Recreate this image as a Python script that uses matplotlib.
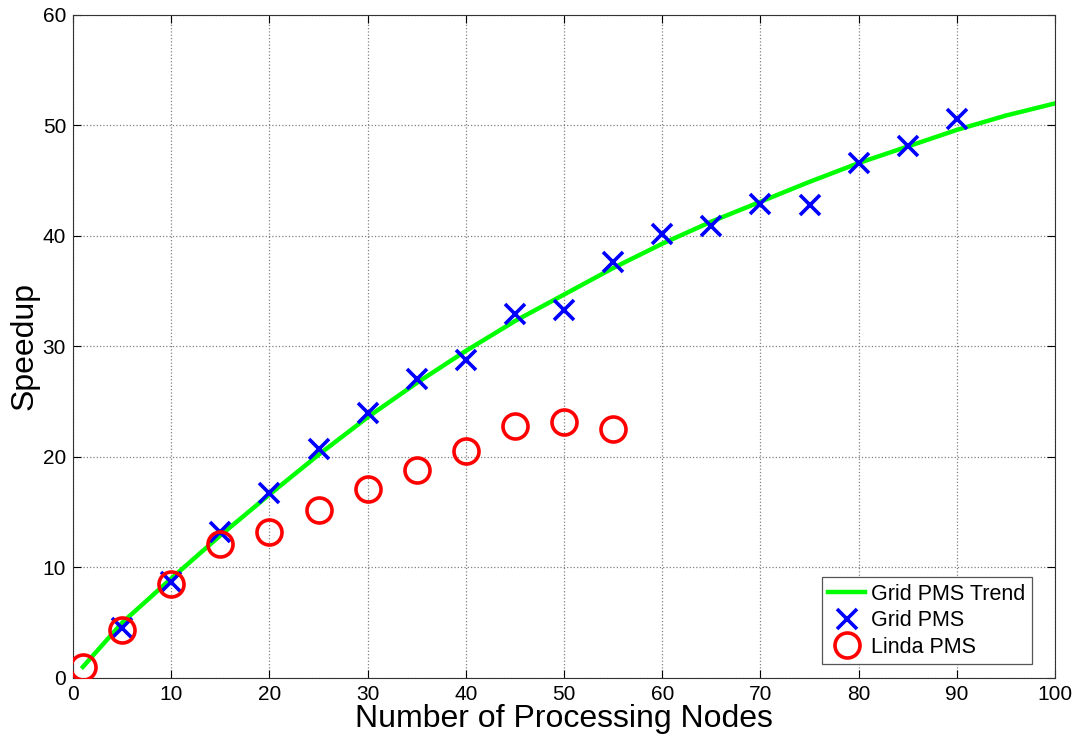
import matplotlib
matplotlib.use("Agg")
import matplotlib.pyplot as plt

plt.rcParams['font.family'] = ['Liberation Sans', 'DejaVu Sans']

# trend curve
trend_x = [1, 5, 10, 15, 20, 25, 30, 35, 40, 45, 50, 55, 60, 65, 70, 75, 80, 85, 90, 95, 100]
trend_y = [1.0, 5.0, 9.0, 12.9, 16.6, 20.2, 23.6, 26.7, 29.6, 32.3, 34.7, 37.1, 39.3,
           41.3, 43.1, 44.9, 46.6, 48.1, 49.6, 50.9, 52.0]

# Grid PMS measurements
grid_x = [5, 10, 15, 20, 25, 30, 35, 40, 45, 50, 55, 60, 65, 70, 75, 80, 85, 90]
grid_y = [4.5, 8.7, 13.2, 16.7, 20.7, 24.0, 27.1, 28.8, 32.9, 33.3, 37.6, 40.2,
          40.9, 42.9, 42.8, 46.6, 48.1, 50.6]

# Linda PMS measurements
linda_x = [1, 5, 10, 15, 20, 25, 30, 35, 40, 45, 50, 55]
linda_y = [1.0, 4.3, 8.5, 12.1, 13.2, 15.2, 17.1, 18.8, 20.5, 22.8, 23.2, 22.5]

fig = plt.figure(figsize=(10.79, 7.42), dpi=100)
ax = fig.add_axes([0.0677, 0.0863, 0.9101, 0.8935])

ax.plot(trend_x, trend_y, color='#00ff00', linewidth=3.2, label='Grid PMS Trend', zorder=2)
ax.plot(grid_x, grid_y, linestyle='none', marker='x', markersize=14, markeredgewidth=2.6,
        color='#0000ff', label='Grid PMS', zorder=3)
ax.plot(linda_x, linda_y, linestyle='none', marker='o', markersize=18, markeredgewidth=2.6,
        markerfacecolor='none', markeredgecolor='#ff0000', label='Linda PMS', zorder=4)

ax.set_xlim(0, 100)
ax.set_ylim(0, 60)
ax.set_xticks(range(0, 101, 10))
ax.set_yticks(range(0, 61, 10))
ax.tick_params(direction='in', top=True, right=True, labelsize=15, length=6, pad=5)
ax.grid(True, linestyle=':', color='#808080', linewidth=0.9)
for s in ax.spines.values():
    s.set_color('#333333')

ax.set_xlabel('Number of Processing Nodes', fontsize=23, labelpad=0)
ax.set_ylabel('Speedup', fontsize=23, labelpad=2)

leg = ax.legend(loc='lower right', bbox_to_anchor=(0.9766, 0.0211), fontsize=15.5,
                fancybox=False, framealpha=1, edgecolor='#555555', borderaxespad=0,
                handlelength=1.7, handletextpad=0.3, labelspacing=0.25, borderpad=0.3)
leg.get_frame().set_linewidth(0.9)

fig.savefig('out.png', dpi=100)
